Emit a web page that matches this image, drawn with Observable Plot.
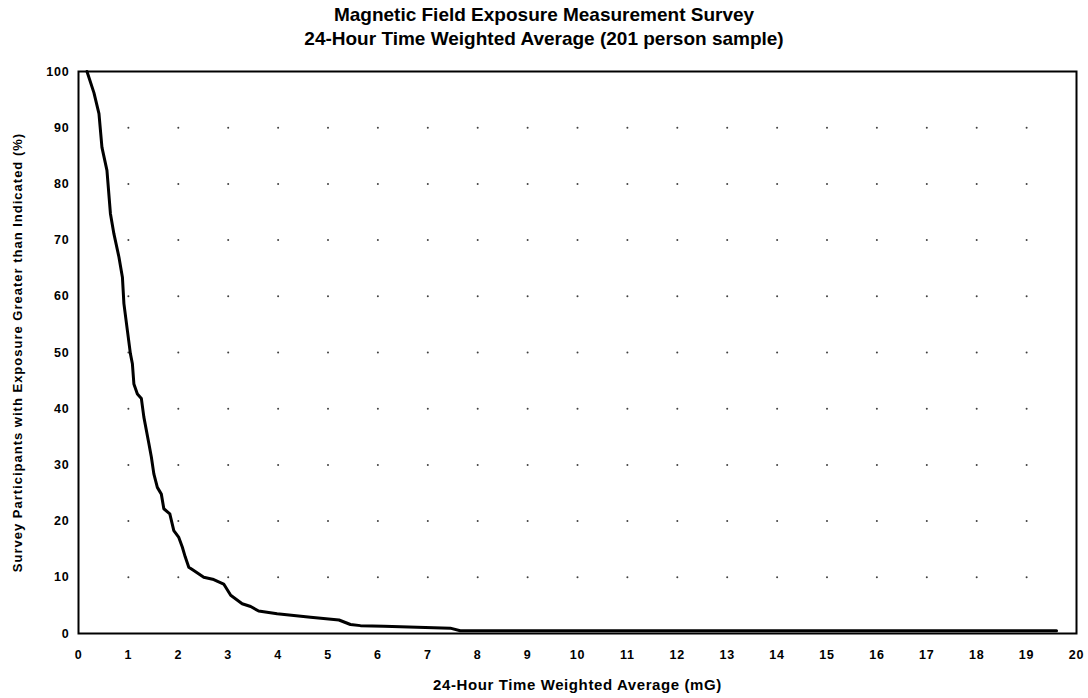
<!DOCTYPE html>
<html>
<head>
<meta charset="utf-8">
<script src="https://cdn.jsdelivr.net/npm/d3@7"></script>
<script src="https://cdn.jsdelivr.net/npm/@observablehq/plot@0.6"></script>
<style>
  html, body { margin: 0; padding: 0; background: #fff; }
  body { width: 1088px; height: 698px; overflow: hidden; font-family: "Liberation Sans", Arial, sans-serif; }
  #title { height: 56px; text-align: center; font-weight: bold; font-size: 19px; line-height: 24px; color: #000; padding-top: 3px; box-sizing: border-box; }
  #chart svg text { font-weight: bold; }
  #chart g[aria-label="x-axis tick label"] text,
  #chart g[aria-label="y-axis tick label"] text { font-size: 12.5px; letter-spacing: 0.8px; }
  #chart g[aria-label="x-axis label"] text { font-size: 15px; letter-spacing: 0.6px; }
  #chart g[aria-label="y-axis label"] text { font-size: 13px; letter-spacing: 1px; }
</style>
</head>
<body>
<div id="title">
  <div>Magnetic Field Exposure Measurement Survey</div>
  <div>24-Hour Time Weighted Average (201 person sample)</div>
</div>
<div id="chart"></div>
<script>
// Exceedance curve: share of participants whose 24-h TWA exceeds each level
const exposureMG = [0.17, 0.31, 0.41, 0.47, 0.57, 0.64, 0.71, 0.81, 0.88, 0.91, 0.98, 1.04, 1.08, 1.11, 1.18, 1.26, 1.31, 1.41, 1.46, 1.51, 1.58, 1.66, 1.71, 1.83, 1.91, 2.01, 2.08, 2.14, 2.21, 2.31, 2.51, 2.71, 2.91, 3.05, 3.28, 3.45, 3.61, 3.98, 4.65, 5.22, 5.45, 5.65, 6.12, 7.45, 7.65, 19.6];
const percentAbove = [100, 96.2, 92.5, 86.5, 82.4, 74.7, 71.1, 67, 63.4, 58.7, 53.9, 49.8, 48, 44.4, 42.6, 41.8, 38.5, 33.8, 31.4, 28.4, 26, 24.8, 22.2, 21.3, 18.3, 17.1, 15.4, 13.6, 11.8, 11.2, 10, 9.6, 8.8, 6.8, 5.3, 4.8, 4, 3.5, 2.9, 2.4, 1.6, 1.4, 1.3, 0.95, 0.5, 0.5];

// Axis ticks
const xTicks = d3.range(0, 21, 1);
const yTicks = d3.range(0, 101, 10);

const curve = exposureMG.map((x, i) => ({x, y: percentAbove[i]}));

// Dotted grid: marks at the interior tick intersections
const gridPoints = [];
for (const gx of xTicks.slice(1, -1)) for (const gy of yTicks.slice(1, -1)) gridPoints.push({x: gx, y: gy});

const chart = Plot.plot({
  width: 1088,
  height: 642,
  marginTop: 15,
  marginBottom: 65,
  marginLeft: 78,
  marginRight: 12,
  style: {fontFamily: "Liberation Sans, Arial, sans-serif", fontSize: "12px", color: "#000", background: "#fff"},
  x: {domain: [0, 20]},
  y: {domain: [0, 100]},
  marks: [
    Plot.dot(gridPoints, {x: "x", y: "y", r: 1, fill: "#000", stroke: "none", fillOpacity: 0.75}),
    Plot.line(curve, {x: "x", y: "y", stroke: "#000", strokeWidth: 3, strokeLinejoin: "round"}),
    Plot.frame({stroke: "#000", strokeWidth: 2}),
    Plot.axisX({ticks: xTicks, tickSize: 0, tickPadding: 17,
      label: "24-Hour Time Weighted Average (mG)", labelAnchor: "center", labelOffset: 56, labelArrow: "none"}),
    Plot.axisY({ticks: yTicks, tickSize: 0, tickPadding: 9,
      label: "Survey Participants with Exposure Greater than Indicated (%)", labelAnchor: "center", labelOffset: 66, labelArrow: "none"})
  ]
});
document.getElementById("chart").appendChild(chart);
</script>
</body>
</html>
